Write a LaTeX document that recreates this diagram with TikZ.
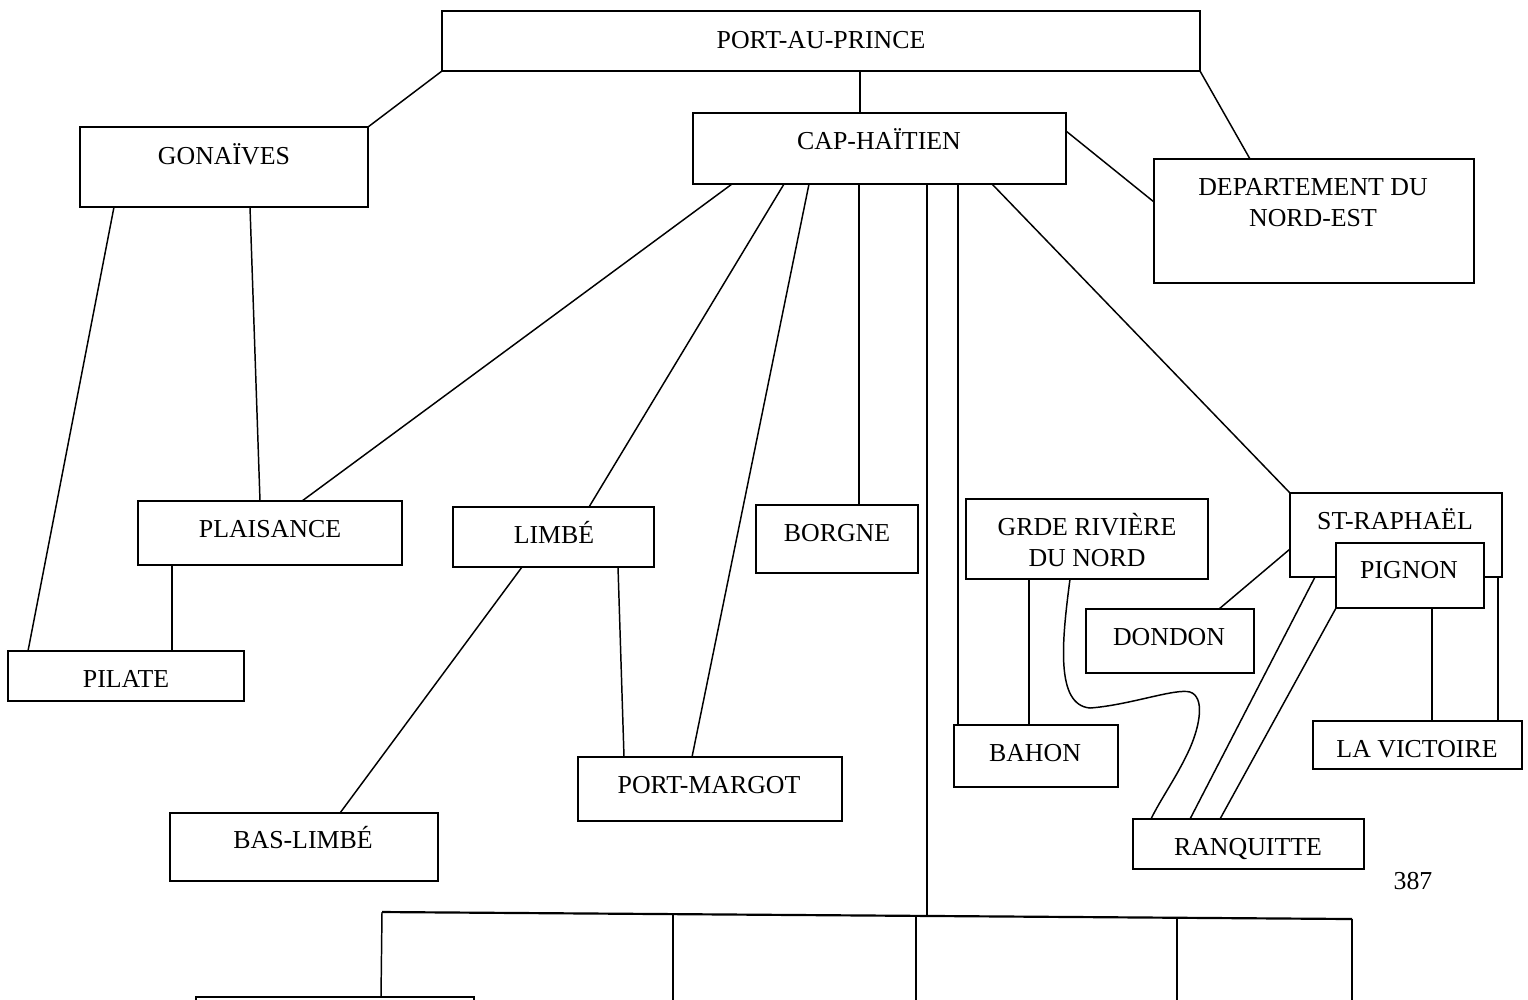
\documentclass[tikz,border=0pt]{standalone}
\usepackage{fontspec}
\setmainfont{Liberation Serif}
\usetikzlibrary{fit,calc}
\tikzset{
  box/.style={draw, line width=0.57pt, fill=white, inner sep=0pt, outer sep=0pt},
  conn/.style={line width=0.42pt},
  trunk/.style={line width=0.62pt},
  lbl/.style={anchor=base, inner sep=0pt, outer sep=0pt}
}
\begin{document}
\begin{tikzpicture}[x=0.01cm, y=-0.01cm, font=\fontsize{7.35}{8.82}\selectfont]
\useasboundingbox (0,0) rectangle (1528,999);
\clip (0,0) rectangle (1528,999);

% boxes
\node[box, fit={(442,11) (1200,71)}] (pap) {};
\node[box, fit={(80,127) (368,207)}] (gon) {};
\node[box, fit={(693,113) (1066,184)}] (cap) {};
\node[box, fit={(1154,159) (1474,283)}] (dept) {};
\node[box, fit={(138,501) (402,565)}] (plai) {};
\node[box, fit={(453,507) (654,567)}] (limbe) {};
\node[box, fit={(756,505) (918,573)}] (borgne) {};
\node[box, fit={(966,499) (1208,579)}] (grde) {};
\node[box, fit={(1290,493) (1502,577)}] (straph) {};
\node[box, fit={(1336,543) (1484,608)}] (pignon) {};
\node[box, fit={(1086,609) (1254,673)}] (dondon) {};
\node[box, fit={(1313,721) (1522,769)}] (lavic) {};
\node[box, fit={(1133,819) (1364,869)}] (ranq) {};
\node[box, fit={(954,725) (1118,787)}] (bahon) {};
\node[box, fit={(8,651) (244,701)}] (pilate) {};
\node[box, fit={(578,757) (842,821)}] (pmargot) {};
\node[box, fit={(170,813) (438,881)}] (baslimbe) {};
\node[box, fit={(196,997) (474,1060)}] (bottom) {};

% labels
\node[lbl] (pap-t) at (821,48) {PORT-AU-PRINCE};
\node[lbl] (gon-t) at (224,164) {GONAÏVES};
\node[lbl] (cap-t) at (879,149) {CAP-HAÏTIEN};
\node[lbl] (dept-t1) at (1313,195) {DEPARTEMENT DU};
\node[lbl] (dept-t2) at (1313,226) {NORD-EST};
\node[lbl] (plai-t) at (270,537) {PLAISANCE};
\node[lbl] (limbe-t) at (554,543) {LIMBÉ};
\node[lbl] (borgne-t) at (837,541) {BORGNE};
\node[lbl] (grde-t1) at (1087,535) {GRDE RIVIÈRE};
\node[lbl] (grde-t2) at (1087,566) {DU NORD};
\node[lbl] (straph-t) at (1395,529) {ST-RAPHAËL};
\node[lbl] (pignon-t) at (1409,578) {PIGNON};
\node[lbl] (dondon-t) at (1169,645) {DONDON};
\node[lbl] (lavic-t) at (1417,757) {LA VICTOIRE};
\node[lbl] (ranq-t) at (1248,855) {RANQUITTE};
\node[lbl] (bahon-t) at (1035,761) {BAHON};
\node[lbl] (pilate-t) at (126,687) {PILATE};
\node[lbl] (pmargot-t) at (709,793) {PORT-MARGOT};
\node[lbl] (baslimbe-t) at (303,848) {BAS-LIMBÉ};
\node[lbl] (page) at (1413,889) {387};

% connectors
\draw[conn] (pap.south west) -- (gon.north east);
\draw[conn] ($(pap.south west)+(418,0)$) -- ($(cap.north west)+(167,0)$);
\draw[conn] (pap.south east) -- ($(dept.north west)+(96,0)$);
\draw[conn] ($(cap.north east)+(0,18)$) -- ($(dept.north west)+(0,43)$);
\draw[conn] ($(gon.south west)+(34,0)$) -- ($(pilate.north west)+(20,0)$);
\draw[conn] ($(gon.south west)+(170,0)$) -- ($(plai.north west)+(122,0)$);
\draw[conn] ($(plai.south west)+(34,0)$) -- ($(pilate.north west)+(164,0)$);
\draw[conn] ($(cap.south west)+(39,0)$) -- ($(plai.north west)+(164,0)$);
\draw[conn] ($(cap.south west)+(91,0)$) -- ($(limbe.north west)+(136,0)$);
\draw[conn] ($(cap.south west)+(116,0)$) -- ($(pmargot.north west)+(114,0)$);
\draw[conn] ($(cap.south west)+(166,0)$) -- ($(borgne.north west)+(103,0)$);
\draw[conn] ($(cap.south west)+(265,0)$) -- ($(bahon.north west)+(4,0)$);
\draw[conn] ($(cap.south west)+(299,0)$) -- (straph.north west);
\draw[conn] ($(limbe.south west)+(69,0)$) -- ($(baslimbe.north west)+(170,0)$);
\draw[conn] ($(limbe.south west)+(165,0)$) -- ($(pmargot.north west)+(46,0)$);
\draw[conn] ($(grde.south west)+(63,0)$) -- ($(bahon.north west)+(75,0)$);
\draw[conn] ($(grde.south west)+(104,0)$)
  .. controls (1062,640) and (1055,705) .. (1090,708)
  .. controls (1130,705) and (1175,688) .. (1190,692)
  .. controls (1205,697) and (1200,725) .. (1190,748)
  .. controls (1178,775) and (1160,800) .. ($(ranq.north west)+(18,0)$);
\draw[conn] ($(straph.north west)+(0,56)$) -- ($(dondon.north west)+(133,0)$);
\draw[conn] ($(straph.south west)+(25,0)$) -- ($(ranq.north west)+(57,0)$);
\draw[conn] (pignon.south west) -- ($(ranq.north west)+(87,0)$);
\draw[conn] ($(pignon.south west)+(96,0)$) -- ($(lavic.north west)+(119,0)$);
\draw[conn] ($(straph.south east)+(-4,0)$) -- ($(lavic.north west)+(185,0)$);

% bottom branch
\coordinate (hl) at (382,912);
\coordinate (hr) at (1352,919);
\coordinate (jn) at (927,915.9);
\coordinate (b1) at (673,914.1);
\coordinate (b2) at (916,915.9);
\coordinate (b3) at (1177,917.7);
\coordinate (b1e) at (673,1010);
\coordinate (b2e) at (916,1010);
\coordinate (b3e) at (1177,1010);
\coordinate (b4e) at (1352,1010);
\draw[conn] ($(cap.south west)+(234,0)$) -- (jn);
\draw[trunk] (hl) -- (hr);
\draw[conn] (hl) -- ($(bottom.north west)+(185,0)$);
\draw[conn] (b1) -- (b1e);
\draw[conn] (b2) -- (b2e);
\draw[conn] (b3) -- (b3e);
\draw[conn] (hr) -- (b4e);
\end{tikzpicture}
\end{document}
